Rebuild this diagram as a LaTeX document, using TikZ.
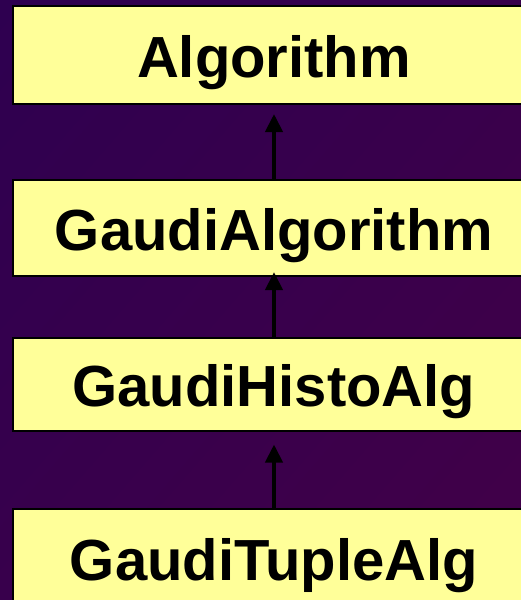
\documentclass[tikz,border=0pt]{standalone}
\usepackage{fontspec}
\setmainfont{Liberation Sans}
\usetikzlibrary{arrows.meta,shadings}
\definecolor{bgA}{HTML}{2E0050}
\definecolor{bgB}{HTML}{420048}
\definecolor{bgM}{HTML}{38004C}
\definecolor{boxfill}{HTML}{FFFF99}
\tikzset{
  classbox/.style={draw=black, line width=2pt, fill=boxfill, rectangle,
    minimum width=522pt, inner sep=0pt, text height=44pt, text depth=0pt,
    font=\fontsize{58}{60}\selectfont\bfseries},
  inherit/.style={line width=4pt, -{Triangle[length=18pt,width=17pt]}}
}
\begin{document}
\begin{tikzpicture}[x=1pt,y=-1pt]
  % backdrop
  \shade[upper left=bgA, lower right=bgB, upper right=bgM, lower left=bgM]
    (0,0) rectangle (521,600);
  \useasboundingbox (0,0) rectangle (521,600);
  % class boxes
  \node[classbox, minimum height=98pt] (alg)   at (274,55)  {Algorithm};
  \node[classbox, minimum height=96pt] (gaudi) at (274,228) {GaudiAlgorithm};
  \node[classbox, minimum height=93pt] (histo) at (274,384) {GaudiHistoAlg};
  \node[classbox, minimum height=98pt] (tuple) at (274,558) {GaudiTupleAlg};
  % inheritance arrows
  \draw[inherit, shorten >=9pt]  (gaudi.north) -- (alg.south);
  \draw[inherit, shorten >=-5pt] (histo.north) -- (gaudi.south);
  \draw[inherit, shorten >=13pt] (tuple.north) -- (histo.south);
\end{tikzpicture}
\end{document}
